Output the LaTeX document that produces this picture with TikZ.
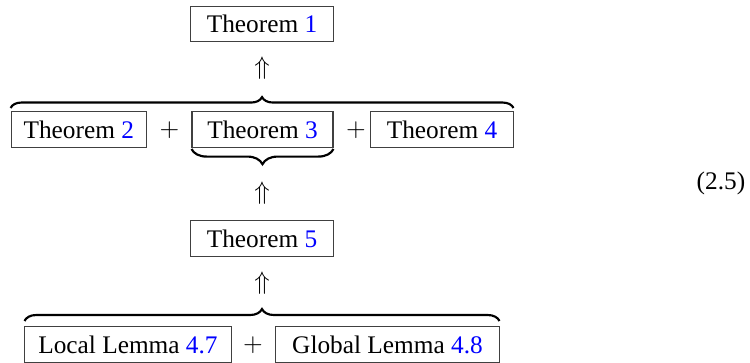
\documentclass[tikz,border=0pt]{standalone}
\usepackage{fontspec}
\setmainfont{Liberation Serif}
\usetikzlibrary{decorations.pathreplacing}
\begin{document}
\begin{tikzpicture}[x=0.395pt,y=-0.395pt,
  thmbox/.style={draw=black!75,line width=0.4pt,inner sep=0pt,minimum height=14.2pt,font=\fontsize{10}{12}\selectfont},
  plain/.style={inner sep=0pt,font=\fontsize{10}{12}\selectfont},
  bracedeco/.style={decorate,line width=0.85pt,decoration={brace,amplitude=#1}}
]
\useasboundingbox (0,0) rectangle (750,363);
% nodes
\node[thmbox,minimum width=56.1pt] (t1) at (262,24) {Theorem \textcolor{blue}{1}};
\node[thmbox,minimum width=53.5pt] (t2) at (78.8,129.5) {Theorem \textcolor{blue}{2}};
\node[thmbox,minimum width=55.7pt] (t3) at (262.5,129.5) {Theorem \textcolor{blue}{3}};
\node[thmbox,minimum width=56.1pt] (t4) at (442,129.5) {Theorem \textcolor{blue}{4}};
\node[thmbox,minimum width=56.1pt] (t5) at (262,238.5) {Theorem \textcolor{blue}{5}};
\node[thmbox,minimum width=81.4pt] (l7) at (128,344.5) {Local Lemma \textcolor{blue}{4.7}};
\node[thmbox,minimum width=88.1pt] (l8) at (387.5,344.5) {Global Lemma \textcolor{blue}{4.8}};
% plus signs
\node[plain] (p1) at (169.5,130) {$+$};
\node[plain] (p2) at (356,130) {$+$};
\node[plain] (p3) at (253,345) {$+$};
% implication arrows
\node[plain] (a1) at (262,68) {$\Uparrow$};
\node[plain] (a2) at (262,193) {$\Uparrow$};
\node[plain] (a3) at (262,283) {$\Uparrow$};
% equation number
\node[plain] (eq) at (721,183) {(2.5)};
% braces
\draw[bracedeco=4.3pt] ([yshift=1.2pt]t2.north west) -- ([yshift=1.2pt]t4.north east);
\draw[bracedeco=6pt] ([yshift=-0.4pt]t3.south east) -- ([yshift=-0.4pt]t3.south west);
\draw[bracedeco=4.7pt] ([yshift=2pt]l7.north west) -- ([yshift=2pt]l8.north east);
\end{tikzpicture}
\end{document}
